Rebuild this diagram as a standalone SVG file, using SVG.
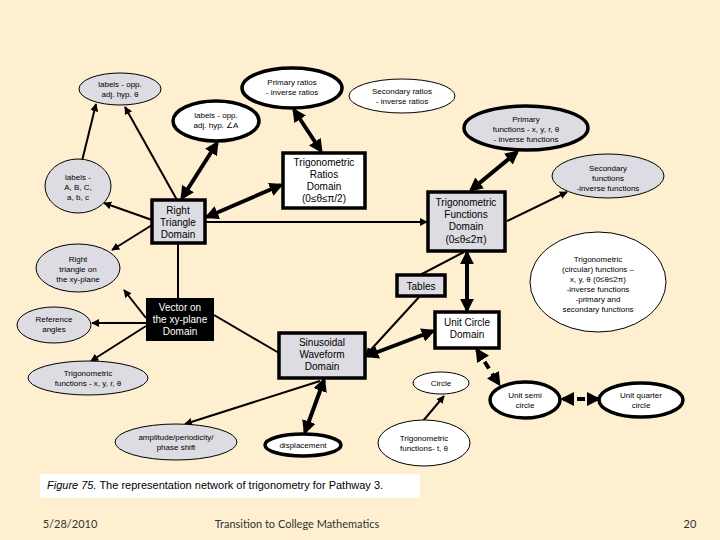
<svg xmlns="http://www.w3.org/2000/svg" width="720" height="540" viewBox="0 0 720 540">
<style>
text{font-family:"Liberation Sans",Arial,sans-serif;fill:#000;text-anchor:middle}
.s{font-size:8px}
.m{font-size:10px}
.g{fill:#dcdce2}
.w{fill:#fff}
.tn{stroke:#000;stroke-width:1}
.tk{stroke:#000;stroke-width:3.5}
.c{stroke:#000;fill:none;stroke-width:2}
.ck{stroke:#000;fill:none;stroke-width:4}
.d{stroke-dasharray:8 6}
.f{font-family:Lato,"Liberation Sans",sans-serif;font-size:11px;fill:#333}
</style>
<defs>
<marker id="a" viewBox="0 0 10 10" refX="9" refY="5" markerWidth="4" markerHeight="4" orient="auto-start-reverse"><path d="M0,0L10,5L0,10z"/></marker>
<marker id="b" viewBox="0 0 10 10" refX="8" refY="5" markerWidth="3.5" markerHeight="3.5" orient="auto-start-reverse"><path d="M0,0L10,5L0,10z"/></marker>
</defs>
<rect width="720" height="540" fill="#fdefd0"/>
<g id="connectors">
<line class="c" x1="82" y1="161" x2="96" y2="104" marker-end="url(#a)"/>
<line class="c" x1="177" y1="200" x2="125" y2="107" marker-end="url(#a)"/>
<line class="ck" x1="182" y1="198" x2="217" y2="143" marker-start="url(#b)" marker-end="url(#b)"/>
<line class="ck" x1="294" y1="110" x2="321" y2="151" marker-start="url(#b)" marker-end="url(#b)"/>
<line class="ck" x1="207" y1="217" x2="281" y2="185" marker-start="url(#b)" marker-end="url(#b)"/>
<line class="c" x1="152" y1="220" x2="104" y2="203" marker-end="url(#a)"/>
<line class="c" x1="152" y1="225" x2="112" y2="250" marker-end="url(#a)"/>
<line class="c" x1="205" y1="222" x2="427" y2="222" marker-end="url(#a)"/>
<line class="ck" x1="471" y1="190" x2="517" y2="152" marker-start="url(#b)" marker-end="url(#b)"/>
<line class="c" x1="507" y1="221" x2="567" y2="192" marker-end="url(#a)"/>
<line class="c" x1="178" y1="243" x2="178" y2="298"/>
<line class="c" x1="146" y1="318" x2="124" y2="290" marker-end="url(#a)"/>
<line class="c" x1="146" y1="323" x2="92" y2="323" marker-end="url(#a)"/>
<line class="c" x1="146" y1="326" x2="91" y2="361" marker-end="url(#a)"/>
<line class="c" x1="214" y1="315" x2="279" y2="353"/>
<line class="ck" x1="467" y1="253" x2="467" y2="310" marker-start="url(#b)" marker-end="url(#b)"/>
<line class="c" x1="464" y1="252" x2="420" y2="275"/>
<line class="c" x1="420" y1="296" x2="366" y2="355" marker-end="url(#a)"/>
<line class="ck" x1="367" y1="356" x2="433" y2="331" marker-start="url(#b)" marker-end="url(#b)"/>
<line class="ck d" x1="477" y1="350" x2="499" y2="384" marker-start="url(#b)" marker-end="url(#b)"/>
<line class="ck d" x1="563" y1="399" x2="598" y2="399" marker-start="url(#b)" marker-end="url(#b)"/>
<line class="c" x1="423" y1="421" x2="444" y2="396" marker-end="url(#a)"/>
<line class="ck" x1="324" y1="380" x2="305" y2="432" marker-start="url(#b)" marker-end="url(#b)"/>
<line class="c" x1="320" y1="381" x2="185" y2="424" marker-end="url(#a)"/>
</g>
<g id="n1"><ellipse class="g tn" cx="120" cy="89" rx="41" ry="16"/><text class="s" x="120" y="87">labels - opp.</text><text class="s" x="120" y="97">adj. hyp. θ</text></g>
<g id="n2"><ellipse class="w tk" cx="292" cy="88" rx="50" ry="20"/><text class="s" x="292" y="85">Primary ratios</text><text class="s" x="292" y="95">- inverse ratios</text></g>
<g id="n3"><ellipse class="w tn" cx="402" cy="96" rx="53" ry="17"/><text class="s" x="402" y="94">Secondary ratios</text><text class="s" x="402" y="104">- inverse ratios</text></g>
<g id="n4"><ellipse class="w tk" cx="216" cy="121" rx="43" ry="20"/><text class="s" x="216" y="118">labels - opp.</text><text class="s" x="216" y="128">adj. hyp. ∠A</text></g>
<g id="n5"><ellipse class="g tk" cx="526" cy="128" rx="62" ry="22"/><text class="s" x="526" y="122">Primary</text><text class="s" x="526" y="132">functions - x, y, r, θ</text><text class="s" x="526" y="142">- inverse functions</text></g>
<g id="n6"><ellipse class="g tn" cx="78" cy="186" rx="33" ry="27"/><text class="s" x="78" y="180">labels -</text><text class="s" x="78" y="190">A, B, C,</text><text class="s" x="78" y="200">a, b, c</text></g>
<g id="n7"><rect class="w tk" x="283" y="153" width="82" height="55"/><text class="m" x="324" y="166">Trigonometric</text><text class="m" x="324" y="178">Ratios</text><text class="m" x="324" y="190">Domain</text><text class="m" x="324" y="202">(0≤θ≤π/2)</text></g>
<g id="n8"><ellipse class="g tn" cx="608" cy="176" rx="56" ry="22"/><text class="s" x="608" y="171">Secondary</text><text class="s" x="608" y="181">functions</text><text class="s" x="608" y="191">-inverse functions</text></g>
<g id="n9"><rect class="g tk" x="152" y="200" width="53" height="43"/><text class="m" x="178" y="214">Right</text><text class="m" x="178" y="226">Triangle</text><text class="m" x="178" y="238">Domain</text></g>
<g id="n10"><rect class="g tk" x="428" y="192" width="77" height="59"/><text class="m" x="466" y="206">Trigonometric</text><text class="m" x="466" y="218">Functions</text><text class="m" x="466" y="230">Domain</text><text class="m" x="466" y="243">(0≤θ≤2π)</text></g>
<g id="n11"><ellipse class="g tn" cx="78" cy="268" rx="42" ry="24"/><text class="s" x="78" y="262">Right</text><text class="s" x="78" y="272">triangle on</text><text class="s" x="78" y="282">the xy-plane</text></g>
<g id="n12"><ellipse class="w tn" cx="598" cy="282" rx="68" ry="50"/><text class="s" x="598" y="262">Trigonometric</text><text class="s" x="598" y="272">(circular) functions –</text><text class="s" x="598" y="282">x, y, θ (0≤θ≤2π)</text><text class="s" x="598" y="292">-inverse functions</text><text class="s" x="598" y="302">-primary and</text><text class="s" x="598" y="312">secondary functions</text></g>
<g id="n13"><rect class="g tk" x="397" y="275" width="48" height="21"/><text class="m" x="421" y="290">Tables</text></g>
<g id="n14"><rect x="146" y="298" width="68" height="43" fill="#000"/><text class="m" x="180" y="311" style="fill:#fff">Vector on</text><text class="m" x="180" y="323" style="fill:#fff">the xy-plane</text><text class="m" x="180" y="335" style="fill:#fff">Domain</text></g>
<g id="n15"><ellipse class="g tn" cx="54" cy="325" rx="37" ry="18"/><text class="s" x="54" y="322">Reference</text><text class="s" x="54" y="332">angles</text></g>
<g id="n16"><rect class="w tk" x="435" y="312" width="64" height="36"/><text class="m" x="467" y="326">Unit Circle</text><text class="m" x="467" y="338">Domain</text></g>
<g id="n17"><rect class="g tk" x="279" y="333" width="86" height="45"/><text class="m" x="322" y="346">Sinusoidal</text><text class="m" x="322" y="358">Waveform</text><text class="m" x="322" y="370">Domain</text></g>
<g id="n18"><ellipse class="g tn" cx="88" cy="378" rx="60" ry="17"/><text class="s" x="88" y="376">Trigonometric</text><text class="s" x="88" y="386">functions -  x, y, r, θ</text></g>
<g id="n19"><ellipse class="w tn" cx="441" cy="383" rx="28" ry="11"/><text class="s" x="441" y="386">Circle</text></g>
<g id="n20"><ellipse class="w tk" cx="525" cy="400" rx="35" ry="18"/><text class="s" x="525" y="398">Unit semi</text><text class="s" x="525" y="408">circle</text></g>
<g id="n21"><ellipse class="w tk" cx="641" cy="400" rx="42" ry="17"/><text class="s" x="641" y="398">Unit quarter</text><text class="s" x="641" y="408">circle</text></g>
<g id="n22"><ellipse class="g tn" cx="176" cy="442" rx="61" ry="18"/><text class="s" x="176" y="440">amplitude/periodicity/</text><text class="s" x="176" y="450">phase shift</text></g>
<g id="n23"><ellipse class="w tk" cx="303" cy="445" rx="38" ry="11"/><text class="s" x="303" y="448">displacement</text></g>
<g id="n24"><ellipse class="w tn" cx="424" cy="443" rx="46" ry="23"/><text class="s" x="424" y="441">Trigonometric</text><text class="s" x="424" y="451">functions- t, θ</text></g>
<g id="caption"><rect x="40" y="474" width="380" height="24" fill="#fff"/><text x="47" y="489" style="text-anchor:start;font-size:11px"><tspan font-style="italic">Figure 75.</tspan> The representation network of trigonometry for Pathway 3.</text></g>
<g id="footer"><text class="f" x="70" y="528">5/28/2010</text><text class="f" x="297" y="528">Transition to College Mathematics</text><text class="f" x="690" y="528">20</text></g>
</svg>
